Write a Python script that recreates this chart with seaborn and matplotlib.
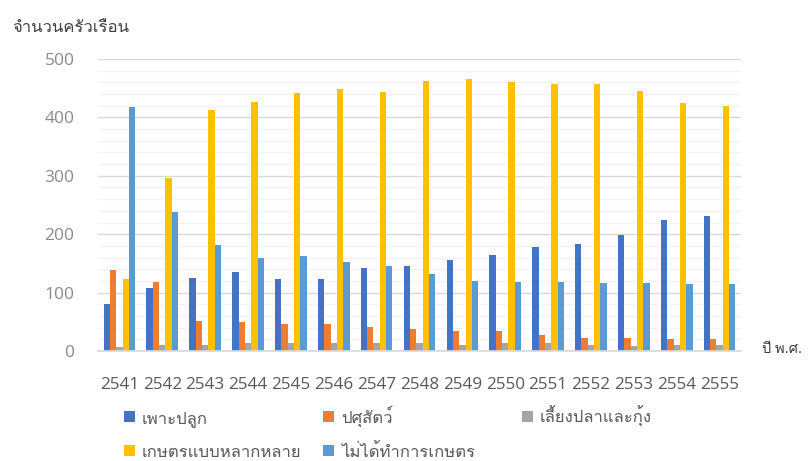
import numpy as np
import pandas as pd
import seaborn as sns
import matplotlib
matplotlib.use("Agg")
import matplotlib.pyplot as plt
from matplotlib.patches import Rectangle
from matplotlib.ticker import MultipleLocator

years = ["2541", "2542", "2543", "2544", "2545", "2546", "2547", "2548",
         "2549", "2550", "2551", "2552", "2553", "2554", "2555"]
categories = ["เพาะปลูก", "ปศุสัตว์", "เลี้ยงปลาและกุ้ง",
              "เกษตรแบบหลากหลาย", "ไม่ได้ทำการเกษตร"]
crops = [80, 108, 125, 136, 123, 123, 142, 145, 155, 164, 178, 184, 199, 224, 231]
livestock = [139, 118, 51, 49, 47, 47, 41, 37, 35, 34, 27, 23, 22, 20, 20]
fish_shrimp = [7, 11, 11, 13, 13, 13, 14, 14, 11, 13, 13, 11, 9, 11, 11]
mixed = [123, 297, 413, 427, 441, 448, 444, 462, 465, 460, 457, 457, 446, 425, 420]
non_farm = [418, 238, 182, 159, 162, 152, 145, 131, 120, 118, 118, 117, 117, 115, 115]
colors = ["#4472C4", "#ED7D31", "#A5A5A5", "#FFC000", "#5B9BD5"]

sns.set_theme(style="white")
# Latin face first for digits, Thai faces after it for the Thai glyphs
plt.rcParams["font.family"] = ["Open Sans", "Loma", "Anuphan", "DejaVu Sans"]

series = [crops, livestock, fish_shrimp, mixed, non_farm]
df = pd.DataFrame({
    "year": np.repeat([years], len(categories), axis=0).ravel(),
    "category": np.repeat(categories, len(years)),
    "value": np.concatenate(series),
})

W, H = 811, 461
fig = plt.figure(figsize=(W / 100, H / 100), dpi=100)
ax = fig.add_axes([98 / W, 1 - 351 / H, 643 / W, 292 / H])

sns.barplot(data=df, x="year", y="value", hue="category", order=years,
            hue_order=categories, palette=colors, saturation=1,
            width=0.74, gap=0, legend=False, edgecolor="none", linewidth=0,
            ax=ax)

ax.set_ylim(0, 500)
ax.set_xlim(-0.5, len(years) - 0.5)
ax.yaxis.set_major_locator(MultipleLocator(100))
ax.yaxis.set_minor_locator(MultipleLocator(20))
ax.grid(which="major", axis="y", color="#d9d9d9", lw=1)
ax.grid(which="minor", axis="y", color="#f2f2f2", lw=1)
ax.set_axisbelow(True)
for s in ["top", "right", "left"]:
    ax.spines[s].set_visible(False)
ax.spines["bottom"].set_color("#d9d9d9")
ax.set_xlabel("")
ax.set_ylabel("")
ax.tick_params(axis="x", which="both", length=0, pad=19, labelsize=12.3,
               labelcolor="#595959")
ax.tick_params(axis="y", which="both", length=0, pad=17, labelsize=12.5,
               labelcolor="#8a8a8a")

fig.text(12 / W, 1 - 28 / H, "จำนวนครัวเรือน", fontsize=12,
         color="#404040", va="center", ha="left")
fig.text(762 / W, 1 - 349 / H, "ปี พ.ศ.", fontsize=10.5,
         color="#404040", va="center", ha="left")

# legend: square swatch + label, laid out on a 3-column grid, rows share a baseline
slots = [(124, 423), (323, 423), (522, 423), (124, 457), (323, 457)]
for cat, col, (xp, base) in zip(categories, colors, slots):
    fig.add_artist(Rectangle((xp / W, 1 - (base - 1) / H), 11 / W, 11 / H,
                             transform=fig.transFigure, facecolor=col,
                             edgecolor="none"))
    fig.text((xp + 18) / W, 1 - base / H, cat, fontsize=12,
             color="#595959", va="baseline", ha="left")

fig.savefig("out.png", dpi=100)
